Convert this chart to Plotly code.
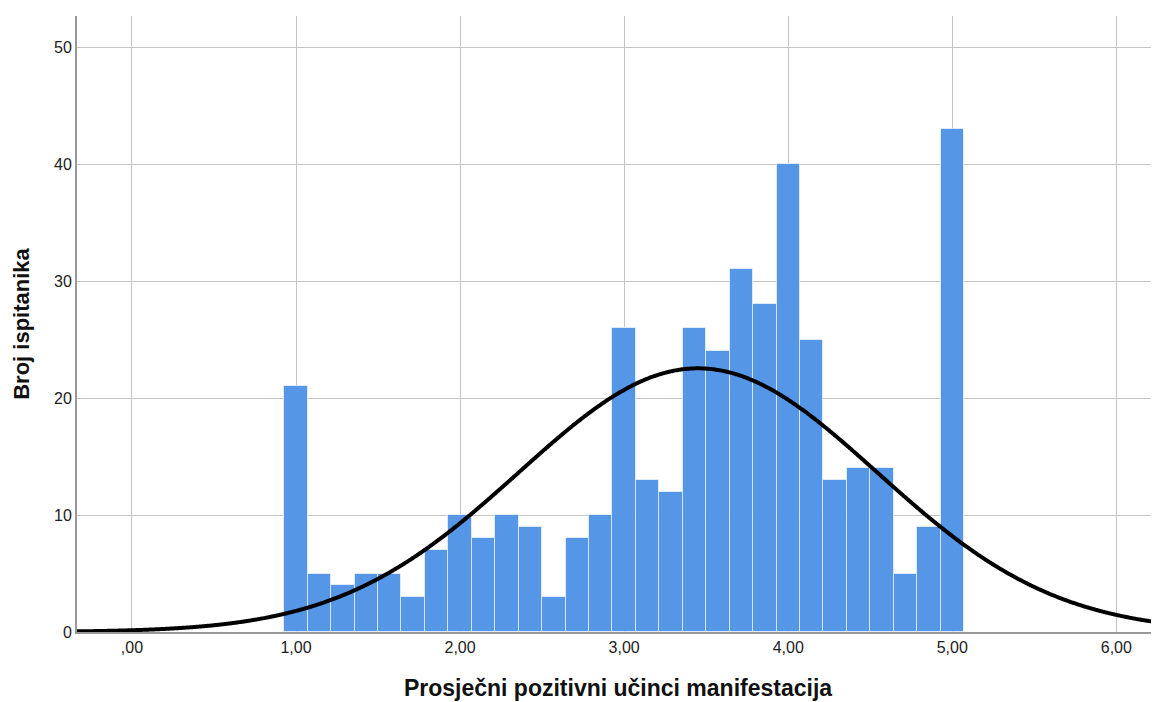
import numpy as np
import plotly.graph_objects as go

# Histogram data (bin width 1/7, bins centred on 1.00 ... 5.00)
bin_width = 1.0 / 7.0
bin_centers = [1 + i / 7.0 for i in range(29)]
counts = [21, 5, 4, 5, 5, 3, 7, 10, 8, 10, 9, 3, 8, 10, 26,
          13, 12, 26, 24, 31, 28, 40, 25, 13, 14, 14, 5, 9, 43]

# Fitted normal curve parameters
mean_val = 3.45
sd_val = 1.09
n_total = sum(counts)

x_tick_vals = [0, 1, 2, 3, 4, 5, 6]
x_tick_text = [",00", "1,00", "2,00", "3,00", "4,00", "5,00", "6,00"]
y_tick_vals = [0, 10, 20, 30, 40, 50]

x_title = "Prosječni pozitivni učinci manifestacija"
y_title = "Broj ispitanika"

x_range = [-0.335, 6.26]
y_range = [0, 52.65]

curve_x = np.linspace(x_range[0], x_range[1], 800)
curve_y = n_total * bin_width / (sd_val * np.sqrt(2 * np.pi)) * np.exp(-0.5 * ((curve_x - mean_val) / sd_val) ** 2)

FONT = "Liberation Sans, Arial, sans-serif"

fig = go.Figure()
fig.add_trace(go.Bar(
    x=bin_centers, y=counts, width=bin_width,
    marker=dict(color="#5596E6", line=dict(color="rgba(255,255,255,0.6)", width=1)),
    hoverinfo="x+y",
))
fig.add_trace(go.Scatter(
    x=curve_x, y=curve_y, mode="lines",
    line=dict(color="black", width=4, shape="spline"), hoverinfo="skip",
))

fig.update_layout(
    width=1151, height=694,
    margin=dict(l=69, r=0, t=8, b=70, autoexpand=False),
    paper_bgcolor="white", plot_bgcolor="white",
    showlegend=False,
    font=dict(family=FONT, color="#222"),
    bargap=0,
)
fig.update_xaxes(
    range=x_range, tickvals=x_tick_vals, ticktext=x_tick_text,
    showgrid=True, gridcolor="#C4C4C4", gridwidth=1.2,
    showline=True, linecolor="#999999", linewidth=2,
    ticks="", tickfont=dict(size=16, color="#222"),
    title=dict(text="<b>" + x_title + "</b>", font=dict(size=23, color="#111", family=FONT), standoff=25),
    zeroline=False, automargin=False,
)
fig.update_yaxes(
    range=y_range, tickvals=y_tick_vals,
    showgrid=True, gridcolor="#C4C4C4", gridwidth=1.2,
    showline=True, linecolor="#999999", linewidth=2,
    ticks="", tickfont=dict(size=16, color="#222"),
    title=dict(text="<b>" + y_title + "</b>", font=dict(size=22, color="#111", family=FONT), standoff=18),
    zeroline=False, automargin=False,
)

fig.write_html("out.html")
